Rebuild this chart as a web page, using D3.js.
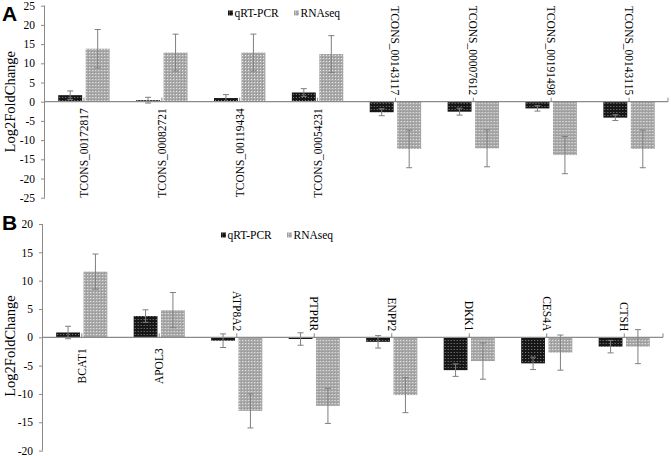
<!DOCTYPE html>
<html>
<head>
<meta charset="utf-8">
<script src="https://cdn.jsdelivr.net/npm/d3@7"></script>
<style>
  html, body { margin: 0; padding: 0; background: #fff; }
  svg { display: block; }
</style>
</head>
<body>
<svg id="chart" width="671" height="456"></svg>
<script>
// ---------- DATA ----------
const seriesNames = ["qRT-PCR", "RNAseq"];

const categoriesA = ["TCONS_00172817", "TCONS_00082721", "TCONS_00119434", "TCONS_00054231",
                     "TCONS_00143117", "TCONS_00007612", "TCONS_00191498", "TCONS_00143115"];
const qrtA      = [1.7, 0.4, 0.95, 2.4, -2.75, -2.6, -1.75, -4.15];
const qrtErrA   = [1.1, 0.75, 0.9, 1.0, 0.9, 0.9, 0.7, 0.75];
const rnaA      = [13.8, 12.8, 12.8, 12.4, -12.3, -12.15, -13.9, -12.3];
const rnaErrA   = [5.0, 4.8, 4.8, 4.8, 4.9, 4.8, 4.85, 4.9];
const yTicksA   = [25, 20, 15, 10, 5, 0, -5, -10, -15, -20, -25];

const categoriesB = ["BCAT1", "APOL3", "ATP8A2", "PTPRR", "ENPP2", "DKK1", "CES4A", "CTSH"];
const qrtB      = [0.85, 3.75, -0.6, -0.3, -0.8, -5.8, -4.6, -1.65];
const qrtErrB   = [1.1, 1.1, 1.2, 1.1, 1.1, 1.1, 1.1, 1.1];
const rnaB      = [11.6, 4.8, -13.0, -12.1, -10.2, -4.2, -2.7, -1.65];
const rnaErrB   = [3.1, 3.1, 3.0, 3.1, 3.1, 3.2, 3.1, 3.0];
const yTicksB   = [20, 15, 10, 5, 0, -5, -10, -15, -20];

const yAxisTitle = "Log2FoldChange";

// ---------- DRAWING ----------
const svg = d3.select("#chart");
const SERIF = "'Liberation Serif', 'Times New Roman', serif";
const AXIS_COLOR = "#8a8a8a";
const ERR_COLOR = "#7f7f7f";

// patterns
const defs = svg.append("defs");
const pq = defs.append("pattern").attr("id", "patQ").attr("patternUnits", "userSpaceOnUse")
  .attr("width", 3).attr("height", 3);
pq.append("rect").attr("width", 3).attr("height", 3).attr("fill", "#161616");
pq.append("rect").attr("x", 1).attr("y", 1).attr("width", 1).attr("height", 1).attr("fill", "#8a8a8a");
const pr = defs.append("pattern").attr("id", "patR").attr("patternUnits", "userSpaceOnUse")
  .attr("width", 3).attr("height", 3);
pr.append("rect").attr("width", 3).attr("height", 3).attr("fill", "#a9a9a9");
pr.append("rect").attr("x", 1).attr("y", 1).attr("width", 1).attr("height", 1).attr("fill", "#ececec");
pr.append("rect").attr("x", 0).attr("y", 0).attr("width", 1).attr("height", 1).attr("fill", "#8e8e8e");
const fills = { "qRT-PCR": "url(#patQ)", "RNAseq": "url(#patR)" };

function drawPanel(cfg) {
  const { cats, q, qe, r, re, ticks, x0, x1, yTop, yBot, letter, letterY, legendY, legendX,
          titleY, labOffPos, labOffNeg } = cfg;
  const g = svg.append("g");
  const dom = [ticks[ticks.length - 1], ticks[0]];
  const y = d3.scaleLinear().domain(dom).range([yBot, yTop]);
  const xc = d3.scaleBand().domain(cats).range([x0, x1]).paddingInner(0.34).paddingOuter(0.17);
  const xs = d3.scaleBand().domain(seriesNames).range([0, xc.bandwidth()]).paddingInner(0.13);
  const y0 = y(0);

  // y axis
  const ya = g.append("g").attr("transform", `translate(${x0},0)`)
    .call(d3.axisLeft(y).tickValues(ticks).tickSize(4).tickPadding(6).tickFormat(d3.format("d")));
  ya.select(".domain").attr("stroke", AXIS_COLOR).attr("d", `M-0.5,${yTop}V${yBot}`);
  ya.selectAll(".tick line").attr("stroke", AXIS_COLOR);
  ya.selectAll(".tick text").attr("font-family", SERIF).attr("font-size", 11.5).attr("fill", "#000")
    .text(d => d < 0 ? "-" + Math.abs(d) : d);

  // bars
  const rows = cats.map((c, i) => ({ c, vals: [
    { s: seriesNames[0], v: q[i], e: qe[i] },
    { s: seriesNames[1], v: r[i], e: re[i] } ] }));
  const grp = g.selectAll(".cat").data(rows).join("g")
    .attr("transform", d => `translate(${xc(d.c)},0)`);
  grp.selectAll("rect").data(d => d.vals).join("rect")
    .attr("x", d => xs(d.s)).attr("width", xs.bandwidth())
    .attr("y", d => Math.min(y(d.v), y0)).attr("height", d => Math.abs(y(d.v) - y0))
    .attr("fill", d => fills[d.s]);
  // error bars
  const eb = grp.selectAll(".err").data(d => d.vals).join("g").attr("class", "err")
    .attr("stroke", ERR_COLOR).attr("stroke-width", 1);
  eb.append("line").attr("x1", d => xs(d.s) + xs.bandwidth() / 2).attr("x2", d => xs(d.s) + xs.bandwidth() / 2)
    .attr("y1", d => y(d.v + d.e)).attr("y2", d => y(d.v - d.e));
  eb.append("line").attr("x1", d => xs(d.s) + xs.bandwidth() / 2 - 3).attr("x2", d => xs(d.s) + xs.bandwidth() / 2 + 3)
    .attr("y1", d => y(d.v + d.e)).attr("y2", d => y(d.v + d.e));
  eb.append("line").attr("x1", d => xs(d.s) + xs.bandwidth() / 2 - 3).attr("x2", d => xs(d.s) + xs.bandwidth() / 2 + 3)
    .attr("y1", d => y(d.v - d.e)).attr("y2", d => y(d.v - d.e));

  // x axis line at zero
  g.append("line").attr("x1", x0).attr("x2", x1).attr("y1", y0).attr("y2", y0)
    .attr("stroke", AXIS_COLOR).attr("stroke-width", 1.2);
  const step = xc.step();
  const centers = cats.map(c => xc(c) + xc.bandwidth() / 2);
  g.selectAll(".xt").data(centers.concat([x1])).join("line")
    .attr("x1", d => d).attr("x2", d => d).attr("y1", y0 - 4).attr("y2", y0)
    .attr("stroke", AXIS_COLOR);

  // category labels
  g.selectAll(".cl").data(rows).join("text")
    .attr("font-family", SERIF).attr("font-size", 11.5).attr("fill", "#000")
    .attr("text-anchor", "end").attr("dy", "0.35em")
    .attr("transform", d => {
      const cx = xc(d.c) + xc.bandwidth() / 2;
      const neg = d.vals[1].v < 0;
      return neg ? `translate(${cx},${y0 - labOffNeg}) rotate(90)`
                 : `translate(${cx},${y0 + labOffPos}) rotate(-90)`;
    })
    .text(d => d.c);

  // y title
  g.append("text").attr("font-family", SERIF).attr("font-size", 14.5).attr("fill", "#000")
    .attr("text-anchor", "middle")
    .attr("transform", `translate(14.5,${titleY}) rotate(-90)`)
    .text(yAxisTitle);

  // panel letter
  g.append("text").attr("x", 2).attr("y", letterY)
    .attr("font-family", "'Liberation Sans', Arial, sans-serif").attr("font-weight", "bold")
    .attr("font-size", 21).attr("fill", "#000").text(letter);

  // legend
  const lg = g.append("g").attr("transform", `translate(${legendX},${legendY})`);
  const offs = [0, 66];
  seriesNames.forEach((s, i) => {
    lg.append("rect").attr("x", offs[i]).attr("y", -6).attr("width", 5).attr("height", 5)
      .attr("fill", fills[s]);
    lg.append("text").attr("x", offs[i] + 6.5).attr("y", 0)
      .attr("font-family", SERIF).attr("font-size", 11.5).attr("fill", "#000").text(s);
  });
}

drawPanel({ cats: categoriesA, q: qrtA, qe: qrtErrA, r: rnaA, re: rnaErrA, ticks: yTicksA,
  x0: 45, x1: 668, yTop: 5.7, yBot: 197.7, letter: "A", letterY: 21,
  legendX: 228, legendY: 16.5, titleY: 101.7, labOffPos: 6.5, labOffNeg: 6.5 });

drawPanel({ cats: categoriesB, q: qrtB, qe: qrtErrB, r: rnaB, re: rnaErrB, ticks: yTicksB,
  x0: 43, x1: 663, yTop: 224, yBot: 450.6, letter: "B", letterY: 230,
  legendX: 221, legendY: 238.5, titleY: 346, labOffPos: 11, labOffNeg: 6 });
</script>
</body>
</html>
